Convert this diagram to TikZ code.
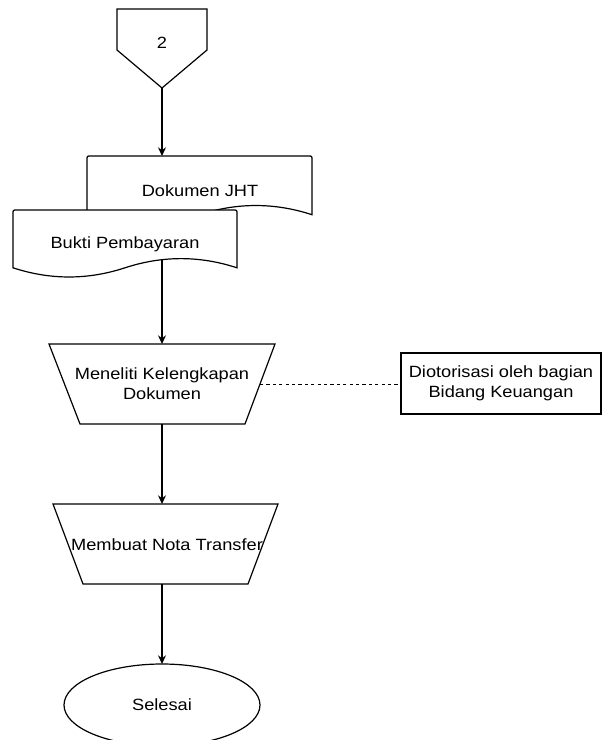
\documentclass[tikz,border=0pt]{standalone}
\usepackage{fontspec}
\setmainfont{Liberation Sans}
\newfontfamily\dfont[FakeStretch=1.12]{Liberation Sans}
\usetikzlibrary{arrows.meta}
\begin{document}
\begin{tikzpicture}[x=0.75pt,y=-0.75pt,
  shapeline/.style={draw=black, line width=0.9pt, fill=white, line join=miter},
  lbl/.style={font=\dfont\fontsize{12.2}{15}\selectfont, align=center, inner sep=0pt, text=black},
  conn/.style={draw=black, line width=0.9pt, -{Stealth[length=6.5pt,width=6pt]}},
  dashconn/.style={draw=black, line width=0.75pt, dash pattern=on 2.4pt off 2.4pt}]
\useasboundingbox (0,0) rectangle (602,740);

% connector coordinates
\coordinate (offtip) at (162,88);
\coordinate (doktop) at (162,156);
\coordinate (bpout) at (162,259.7);
\coordinate (t1top) at (162,344);
\coordinate (t1bot) at (162,424);
\coordinate (t1right) at (260,384);
\coordinate (authleft) at (401,384);
\coordinate (t2top) at (162,504);
\coordinate (t2bot) at (162,584);
\coordinate (endtop) at (162,664);

% off-page connector
\draw[shapeline] (117,9) -- (207,9) -- (207,50) -- (offtip) -- (117,50) -- cycle;

% Dokumen JHT
\draw[shapeline] (87,214.7) -- (87,160) .. controls (87,156) .. (91,156) -- (308,156)
  .. controls (312,156) .. (312,160) -- (312,214.7)
  .. controls (274.5,202.46) and (237,202.46) .. (199.5,214.7)
  .. controls (162,226.94) and (124.5,226.94) .. (87,214.7) -- cycle;

% Bukti Pembayaran
\draw[shapeline] (13,267.8) -- (13,214) .. controls (13,210) .. (17,210) -- (233,210)
  .. controls (237,210) .. (237,214) -- (237,267.8)
  .. controls (199.67,255.56) and (162.33,255.56) .. (125,267.8)
  .. controls (87.67,280.04) and (50.33,280.04) .. (13,267.8) -- cycle;

% Meneliti trapezoid
\draw[shapeline] (49,344) -- (275,344) -- (245,424) -- (80,424) -- cycle;

% authorisation box
\draw[shapeline] (401,353) rectangle (601,414);

% Membuat trapezoid
\draw[shapeline] (53,504) -- (278,504) -- (248,584) -- (83,584) -- cycle;

% terminator
\draw[shapeline] (162,705) ellipse [x radius=98, y radius=41];

% labels
\node[lbl] (off) at (162,43) {2};
\node[lbl] (dok) at (200,191) {Dokumen JHT};
\node[lbl] (bukti) at (125,244) {Bukti Pembayaran};
\node[lbl] (teliti) at (162,384) {Meneliti Kelengkapan\\Dokumen};
\node[lbl] (auth) at (501,383.5) {Diotorisasi oleh bagian\\Bidang Keuangan};
\node[lbl] (nota) at (167,545) {Membuat Nota Transfer};
\node[lbl] (end) at (162,705) {Selesai};

% connectors
\draw[conn] (offtip) -- (doktop);
\draw[conn] (bpout) -- (t1top);
\draw[dashconn] (t1right) -- (authleft);
\draw[conn] (t1bot) -- (t2top);
\draw[conn] (t2bot) -- (endtop);
\end{tikzpicture}
\end{document}
